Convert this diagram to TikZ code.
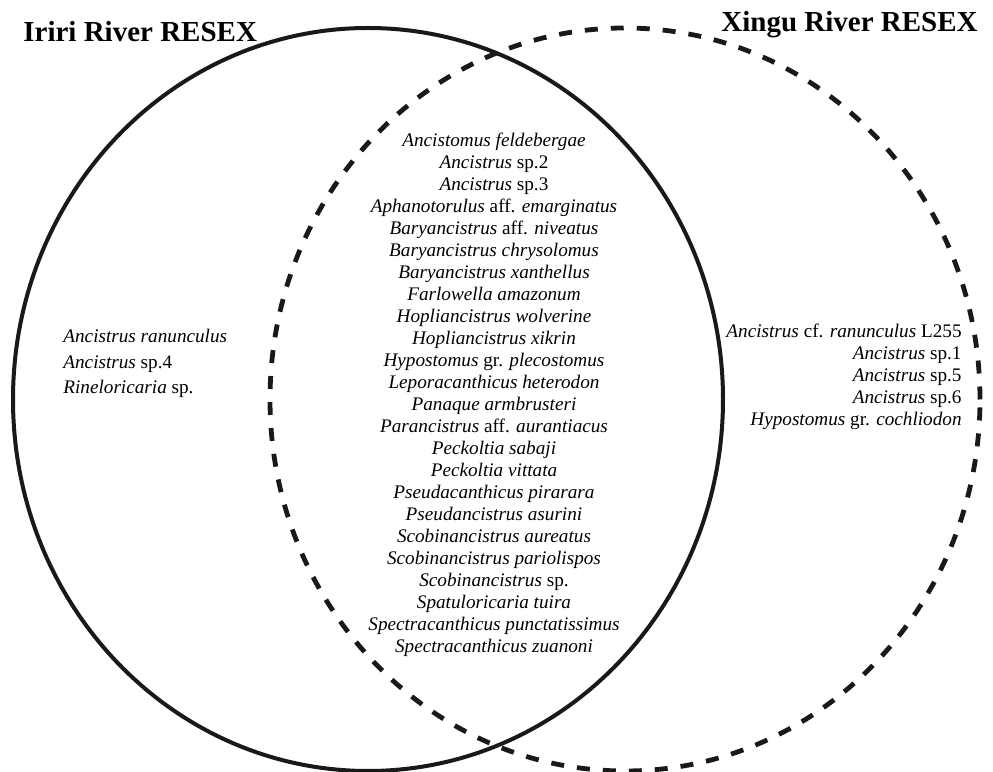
\documentclass[tikz,border=0pt]{standalone}
\usepackage{fontspec}
\setmainfont{Liberation Serif}
\usetikzlibrary{positioning}

\begin{document}
\begin{tikzpicture}[
  x=0.5pt, y=0.5pt,
  iriri/.style={draw=black!90, line width=2pt},
  xingu/.style={draw=black!90, line width=2.4pt, dash pattern=on 6.5pt off 6.5pt},
  title/.style={inner sep=0pt, font=\fontsize{14.5}{18}\selectfont\bfseries},
  species/.style={inner sep=0pt, font=\fontsize{9.6}{11}\selectfont},
]
  \useasboundingbox (0,0) rectangle (993,772);

  % Sets
  \draw[iriri] (368,372.5) ellipse [x radius=355, y radius=371.5];
  \draw[xingu] (625,372.5) ellipse [x radius=355, y radius=371.5];

  % Titles
  \node[title, anchor=base west] (iriritit) at (23,730) {Iriri River RESEX};
  \node[title, anchor=base east] (xingutit) at (978,740) {Xingu River RESEX};

  % Only Iriri
  \node[species, anchor=north west, align=left,
        font=\fontsize{9.6}{12.75}\selectfont] (onlyiriri) at (63,443)
    {\textit{Ancistrus ranunculus}\\
     \textit{Ancistrus} sp.4\\
     \textit{Rineloricaria} sp.};

  % Shared
  \node[species, anchor=north, align=center] (shared) at (494,639)
    {\textit{Ancistomus feldebergae}\\
     \textit{Ancistrus} sp.2\\
     \textit{Ancistrus} sp.3\\
     \textit{Aphanotorulus} aff. \textit{emarginatus}\\
     \textit{Baryancistrus} aff. \textit{niveatus}\\
     \textit{Baryancistrus chrysolomus}\\
     \textit{Baryancistrus xanthellus}\\
     \textit{Farlowella amazonum}\\
     \textit{Hopliancistrus wolverine}\\
     \textit{Hopliancistrus xikrin}\\
     \textit{Hypostomus} gr. \textit{plecostomus}\\
     \textit{Leporacanthicus heterodon}\\
     \textit{Panaque armbrusteri}\\
     \textit{Parancistrus} aff. \textit{aurantiacus}\\
     \textit{Peckoltia sabaji}\\
     \textit{Peckoltia vittata}\\
     \textit{Pseudacanthicus pirarara}\\
     \textit{Pseudancistrus asurini}\\
     \textit{Scobinancistrus aureatus}\\
     \textit{Scobinancistrus pariolispos}\\
     \textit{Scobinancistrus} sp.\\
     \textit{Spatuloricaria tuira}\\
     \textit{Spectracanthicus punctatissimus}\\
     \textit{Spectracanthicus zuanoni}};

  % Only Xingu
  \node[species, anchor=north east, align=right] (onlyxingu) at (962,448)
    {\textit{Ancistrus} cf. \textit{ranunculus} L255\\
     \textit{Ancistrus} sp.1\\
     \textit{Ancistrus} sp.5\\
     \textit{Ancistrus} sp.6\\
     \textit{Hypostomus} gr. \textit{cochliodon}};
\end{tikzpicture}
\end{document}
